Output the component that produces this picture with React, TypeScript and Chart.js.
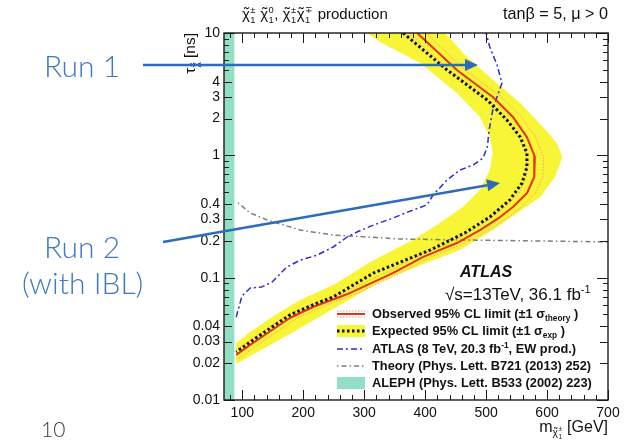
import React, { useEffect, useRef } from 'react';
import { Chart, registerables } from 'chart.js';

Chart.register(...registerables);

// ---------- data (m in GeV, tau in ns) ----------
const observedMass = [387, 452, 511, 544, 567, 580, 579, 567, 544, 523, 490, 452, 397, 347, 277, 216, 178, 137, 113, 90];
const observedTau = [10, 4.98, 3.0, 2.06, 1.41, 0.97, 0.665, 0.49, 0.378, 0.313, 0.245, 0.192, 0.148, 0.109, 0.075, 0.0576, 0.0468, 0.034, 0.0282, 0.0233];

const theoryUpMass = [401, 466, 525, 558, 581, 594, 593, 581, 558, 537, 504, 466, 410, 360, 290, 229, 190, 150, 125, 92];
const theoryUpTau = [10, 4.98, 3.0, 2.06, 1.41, 0.97, 0.665, 0.49, 0.378, 0.313, 0.245, 0.192, 0.148, 0.109, 0.075, 0.0576, 0.0468, 0.034, 0.0282, 0.0215];
const theoryDownMass = [374, 439, 498, 531, 554, 567, 566, 554, 531, 510, 477, 439, 384, 334, 264, 203, 166, 125, 102, 90];
const theoryDownTau = [10, 4.98, 3.0, 2.06, 1.41, 0.97, 0.665, 0.49, 0.378, 0.313, 0.245, 0.192, 0.148, 0.109, 0.075, 0.0576, 0.0468, 0.034, 0.0282, 0.025];

const expectedMass = [364, 436, 502, 534, 556, 567, 567, 559, 539, 506, 465, 408, 315, 249, 223, 178, 137, 113, 90];
const expectedTau = [10, 4.98, 2.83, 1.95, 1.41, 1.045, 0.8, 0.594, 0.432, 0.313, 0.232, 0.168, 0.109, 0.0695, 0.062, 0.0495, 0.036, 0.0298, 0.0247];

// +-1 sigma expected band, closed contour (inner edge then outer edge)
const bandMass = [305, 326, 392, 452, 490, 506, 511, 506, 490, 462, 424, 380, 315, 249, 195, 154, 113, 90,
  90, 113, 146, 195, 260, 326, 364, 457, 511, 551, 589, 613, 625, 616, 593, 556, 506, 465, 433];
const bandTau = [10, 8.44, 5.69, 3.23, 2.06, 1.41, 1.045, 0.758, 0.521, 0.378, 0.28, 0.203, 0.139, 0.0871, 0.0656, 0.0495, 0.036, 0.0292,
  0.0197, 0.0229, 0.0282, 0.0388, 0.0598, 0.0922, 0.111, 0.168, 0.245, 0.338, 0.456, 0.665, 0.969, 1.26, 1.71, 2.68, 4.37, 6.61, 10];

const atlas8Mass = [90, 99.5, 113, 132, 149, 173, 195, 223, 249, 272, 288, 315, 347, 380, 403, 413, 436, 457, 479, 495, 502, 505, 511, 518, 526, 518, 506, 500];
const atlas8Tau = [0.0476, 0.0708, 0.0822, 0.084, 0.0922, 0.122, 0.139, 0.153, 0.178, 0.215, 0.236, 0.269, 0.307, 0.357, 0.393, 0.474, 0.629, 0.758, 0.834, 0.951, 1.17, 1.61, 2.35, 3.0, 3.9, 5.47, 7.69, 10];

const theoryMass = [93, 113, 141, 195, 249, 305, 359, 469, 700];
const theoryTau = [0.41, 0.338, 0.296, 0.245, 0.223, 0.215, 0.207, 0.203, 0.196];

const alephLimit = 87;

const xMin = 70, xMax = 700;
const yMin = 0.01, yMax = 10;
const xTickLabels = [100, 200, 300, 400, 500, 600, 700];
const yTickLabels = [0.01, 0.02, 0.03, 0.04, 0.1, 0.2, 0.3, 0.4, 1, 2, 3, 4, 10];
const yDecades = [0.01, 0.1, 1, 10];
const yMinorTicks = [0.01, 0.02, 0.03, 0.04, 0.05, 0.06, 0.07, 0.08, 0.09, 0.1, 0.2, 0.3, 0.4, 0.5, 0.6, 0.7, 0.8, 0.9, 1, 2, 3, 4, 5, 6, 7, 8, 9, 10];

// ---------- colours ----------
const YELLOW = '#f8f436';
const GREEN = '#92e0c4';
const RED = '#e8321e';
const BLUE = '#2b2bd6';
const GREY = '#7c7c7c';
const SLIDE_BLUE = '#3f79c1';
const ARROW_BLUE = '#2d6bbc';

const FAM = '"Liberation Sans", Arial, Helvetica, sans-serif';

type Seg = { t: string; k?: 'sup' | 'sub'; tilde?: boolean; sup?: string; sub?: string };

function runSegs(ctx: CanvasRenderingContext2D, segs: Seg[], x: number, y: number, size: number, weight: string, draw: boolean) {
  const font = (fs: number) => `${weight} ${fs}px ${FAM}`;
  let cx = x;
  ctx.textAlign = 'left';
  ctx.textBaseline = 'alphabetic';
  for (const s of segs) {
    let fs = size, dy = 0;
    if (s.k === 'sup') { fs = size * 0.65; dy = -size * 0.42; }
    else if (s.k === 'sub') { fs = size * 0.65; dy = size * 0.24; }
    ctx.font = font(fs);
    const w = ctx.measureText(s.t).width;
    if (draw) ctx.fillText(s.t, cx, y + dy);
    if (s.tilde && draw) {
      ctx.textAlign = 'center';
      ctx.fillText('\u02DC', cx + w / 2 + fs * 0.04, y + dy - fs * 0.1);
      ctx.textAlign = 'left';
    }
    cx += w;
    if (s.sup || s.sub) {
      const ss = fs * 0.62;
      ctx.font = font(ss);
      let ww = 0;
      if (s.sup) { if (draw) ctx.fillText(s.sup, cx + 0.5, y + dy - fs * 0.42); ww = Math.max(ww, ctx.measureText(s.sup).width); }
      if (s.sub) { if (draw) ctx.fillText(s.sub, cx + 0.5, y + dy + fs * 0.26); ww = Math.max(ww, ctx.measureText(s.sub).width); }
      cx += ww + 1;
    }
  }
  return cx - x;
}

const legendRows: Seg[][] = [
  [{ t: 'Observed 95% CL limit (\u00b11 \u03c3' }, { t: 'theory', k: 'sub' }, { t: ' )' }],
  [{ t: 'Expected 95% CL limit (\u00b11 \u03c3' }, { t: 'exp', k: 'sub' }, { t: ' )' }],
  [{ t: 'ATLAS (8 TeV, 20.3 fb' }, { t: '-1', k: 'sup' }, { t: ', EW prod.)' }],
  [{ t: 'Theory (Phys. Lett. B721 (2013) 252)' }],
  [{ t: 'ALEPH (Phys. Lett. B533 (2002) 223)' }],
];

const topLeftText: Seg[] = [
  { t: '\u03c7', tilde: true, sup: '\u00b1', sub: '1' }, { t: ' ' },
  { t: '\u03c7', tilde: true, sup: '0', sub: '1' }, { t: ', ' },
  { t: '\u03c7', tilde: true, sup: '\u00b1', sub: '1' },
  { t: '\u03c7', tilde: true, sup: '\u2213', sub: '1' }, { t: ' production' },
];
const topRightText: Seg[] = [{ t: 'tan\u03b2 = 5, \u03bc > 0' }];
const xTitle: Seg[] = [{ t: 'm' }, { t: '\u03c7', k: 'sub', tilde: true, sup: '\u00b1', sub: '1' }, { t: ' [GeV]' }];
const yTitle: Seg[] = [{ t: '\u03c4' }, { t: '\u03c7', k: 'sub', tilde: true }, { t: ' [ns]' }];

function drawArrow(ctx: CanvasRenderingContext2D, x1: number, y1: number, x2: number, y2: number) {
  const ang = Math.atan2(y2 - y1, x2 - x1);
  const hl = 13, hw = 6;
  const bx = x2 - hl * Math.cos(ang), by = y2 - hl * Math.sin(ang);
  ctx.strokeStyle = ARROW_BLUE;
  ctx.fillStyle = ARROW_BLUE;
  ctx.lineWidth = 2.5;
  ctx.setLineDash([]);
  ctx.beginPath();
  ctx.moveTo(x1, y1);
  ctx.lineTo(bx, by);
  ctx.stroke();
  ctx.beginPath();
  ctx.moveTo(x2, y2);
  ctx.lineTo(bx - hw * Math.sin(ang), by + hw * Math.cos(ang));
  ctx.lineTo(bx + hw * Math.sin(ang), by - hw * Math.cos(ang));
  ctx.closePath();
  ctx.fill();
}

function drawFrame(chart: any) {
  const { ctx, chartArea: a, scales } = chart;
  const xs = scales.x, ys = scales.y;
  ctx.save();
  ctx.setLineDash([]);
  ctx.strokeStyle = '#1a1a1a';
  ctx.lineWidth = 1;
  ctx.beginPath();
  for (const v of yMinorTicks) {
    const py = Math.round(ys.getPixelForValue(v)) + 0.5;
    const len = yDecades.includes(v) ? 11 : yTickLabels.includes(v) ? 8 : 5;
    ctx.moveTo(a.left, py); ctx.lineTo(a.left + len, py);
    ctx.moveTo(a.right, py); ctx.lineTo(a.right - len, py);
  }
  for (let v = 80; v <= xMax; v += 20) {
    const px = Math.round(xs.getPixelForValue(v)) + 0.5;
    const len = v % 100 === 0 ? 10 : 5;
    ctx.moveTo(px, a.bottom); ctx.lineTo(px, a.bottom - len);
    ctx.moveTo(px, a.top); ctx.lineTo(px, a.top + len);
  }
  ctx.stroke();
  ctx.lineWidth = 1.4;
  ctx.strokeRect(a.left, a.top, a.right - a.left, a.bottom - a.top);
  ctx.restore();
}

const overlayPlugin = {
  id: 'rootOverlay',
  afterDraw(chart: any) {
    drawFrame(chart);
    const { ctx, chartArea: a } = chart;
    ctx.save();
    ctx.setLineDash([]);
    ctx.fillStyle = '#111';
    // top labels
    runSegs(ctx, topLeftText, 242, 19, 15, 'normal', true);
    const wr = runSegs(ctx, topRightText, 0, 0, 16.2, 'normal', false);
    runSegs(ctx, topRightText, a.right - wr, 19, 16.2, 'normal', true);
    // x title
    const wx = runSegs(ctx, xTitle, 0, 0, 16, 'normal', false);
    runSegs(ctx, xTitle, a.right - wx, 432, 16, 'normal', true);
    // y title (rotated)
    const wy = runSegs(ctx, yTitle, 0, 0, 15.5, 'normal', false);
    ctx.save();
    ctx.translate(195, a.top + wy);
    ctx.rotate(-Math.PI / 2);
    runSegs(ctx, yTitle, 0, 0, 15.5, 'normal', true);
    ctx.restore();

    // ATLAS label
    ctx.fillStyle = '#111';
    ctx.font = `italic bold 16px ${FAM}`;
    ctx.textAlign = 'left';
    ctx.fillText('ATLAS', 460, 277);
    runSegs(ctx, [{ t: '\u221As=13TeV, 36.1 fb' }, { t: '-1', k: 'sup' }], 445, 300, 17, 'normal', true);

    // legend
    const base = [318, 335, 353, 370, 387];
    const sx0 = 337, sx1 = 365;
    legendRows.forEach((row, i) => {
      ctx.fillStyle = '#111';
      runSegs(ctx, row, 372, base[i], 12.8, 'bold', true);
    });
    const cy = base.map((b) => b - 4);
    // observed symbol
    ctx.lineWidth = 1;
    ctx.strokeStyle = '#f39a78';
    ctx.setLineDash([1.5, 1.5]);
    ctx.beginPath();
    ctx.moveTo(sx0, cy[0] - 3); ctx.lineTo(sx1, cy[0] - 3);
    ctx.moveTo(sx0, cy[0] + 3); ctx.lineTo(sx1, cy[0] + 3);
    ctx.stroke();
    ctx.setLineDash([]);
    ctx.strokeStyle = RED; ctx.lineWidth = 2;
    ctx.beginPath(); ctx.moveTo(sx0, cy[0]); ctx.lineTo(sx1, cy[0]); ctx.stroke();
    // expected symbol
    ctx.fillStyle = YELLOW;
    ctx.fillRect(sx0, cy[1] - 6, sx1 - sx0, 12);
    ctx.strokeStyle = '#111'; ctx.lineWidth = 3; ctx.setLineDash([2.5, 2.5]);
    ctx.beginPath(); ctx.moveTo(sx0, cy[1]); ctx.lineTo(sx1, cy[1]); ctx.stroke();
    // atlas 8 tev
    ctx.strokeStyle = BLUE; ctx.lineWidth = 1.5; ctx.setLineDash([6, 3, 2, 3]);
    ctx.beginPath(); ctx.moveTo(sx0, cy[2]); ctx.lineTo(sx1, cy[2]); ctx.stroke();
    // theory
    ctx.strokeStyle = GREY; ctx.lineWidth = 1.5; ctx.setLineDash([1.5, 3, 5, 3]);
    ctx.beginPath(); ctx.moveTo(sx0, cy[3]); ctx.lineTo(sx1, cy[3]); ctx.stroke();
    ctx.setLineDash([]);
    // aleph
    ctx.fillStyle = GREEN;
    ctx.fillRect(sx0, cy[4] - 6, sx1 - sx0, 12);

    // slide annotations
    ctx.fillStyle = SLIDE_BLUE;
    ctx.textAlign = 'left';
    ctx.font = `300 30px Lato, "Open Sans", sans-serif`;
    ctx.fillText('Run 1', 44, 77);
    ctx.fillText('Run 2', 44, 258);
    ctx.fillText('(with IBL)', 22, 294);
    ctx.fillStyle = '#3a3a3a';
    ctx.font = `300 21px Lato, "Open Sans", sans-serif`;
    ctx.fillText('10', 41, 437);
    drawArrow(ctx, 143, 65, 478, 65);
    drawArrow(ctx, 163, 242, 500, 183);
    ctx.restore();
  },
};

const pts = (xs: number[], ys: number[]) => xs.map((x, i) => ({ x, y: ys[i] }));

export default function App() {
  const ref = useRef<HTMLCanvasElement>(null);
  useEffect(() => {
    const canvas = ref.current!;
    const chart = new Chart(canvas, {
      type: 'scatter',
      data: {
        datasets: [
          {
            label: 'Expected', data: pts(expectedMass, expectedTau), showLine: true, order: 1,
            borderColor: '#111', borderWidth: 3, borderDash: [2.5, 2.5], pointRadius: 0, fill: false,
          },
          {
            label: 'Observed', data: pts(observedMass, observedTau), showLine: true, order: 2,
            borderColor: RED, borderWidth: 2, pointRadius: 0, fill: false,
          },
          {
            label: 'Theory +1s', data: pts(theoryUpMass, theoryUpTau), showLine: true, order: 3,
            borderColor: '#f3a07e', borderWidth: 1, borderDash: [1.5, 1.5], pointRadius: 0, fill: false,
          },
          {
            label: 'Theory -1s', data: pts(theoryDownMass, theoryDownTau), showLine: true, order: 3,
            borderColor: '#f3a07e', borderWidth: 1, borderDash: [1.5, 1.5], pointRadius: 0, fill: false,
          },
          {
            label: 'ATLAS 8 TeV', data: pts(atlas8Mass, atlas8Tau), showLine: true, order: 4,
            borderColor: BLUE, borderWidth: 1.5, borderDash: [6, 3, 2, 3], pointRadius: 0, fill: false,
          },
          {
            label: 'Theory', data: pts(theoryMass, theoryTau), showLine: true, order: 5,
            borderColor: GREY, borderWidth: 1.5, borderDash: [1.5, 3, 5, 3], pointRadius: 0, fill: false,
          },
          {
            label: 'ALEPH', data: pts([xMin, alephLimit, alephLimit, xMin], [yMin, yMin, yMax, yMax]), showLine: true, order: 9,
            borderWidth: 0, borderColor: 'rgba(0,0,0,0)', backgroundColor: GREEN, pointRadius: 0, fill: 'shape',
          },
          {
            label: 'Expected band', data: pts(bandMass, bandTau), showLine: true, order: 10,
            borderWidth: 0, borderColor: 'rgba(0,0,0,0)', backgroundColor: YELLOW, pointRadius: 0, fill: 'shape',
          },
        ] as any,
      },
      options: {
        responsive: false,
        animation: false,
        events: [],
        layout: { padding: { left: 0, right: 18, top: 33, bottom: 0 } },
        plugins: { legend: { display: false }, tooltip: { enabled: false } },
        elements: { line: { tension: 0, borderJoinStyle: 'round' } },
        scales: {
          x: {
            type: 'linear', min: xMin, max: xMax,
            grid: { display: false, drawTicks: false }, border: { display: false },
            afterFit: (s: any) => { s.height = 42; },
            afterBuildTicks: (s: any) => { s.ticks = xTickLabels.map((v) => ({ value: v })); },
            ticks: {
              autoSkip: false, maxRotation: 0, padding: 5, color: '#111',
              font: { family: FAM, size: 14 },
              callback: (v: any) => String(v),
            },
          },
          y: {
            type: 'logarithmic', min: yMin, max: yMax,
            grid: { display: false, drawTicks: false }, border: { display: false },
            afterFit: (s: any) => { s.width = 224; },
            afterBuildTicks: (s: any) => { s.ticks = yTickLabels.map((v) => ({ value: v })); },
            ticks: {
              autoSkip: false, padding: 4, color: '#111',
              font: { family: FAM, size: 14 },
              callback: (v: any) => String(v),
            },
          },
        },
      } as any,
      plugins: [overlayPlugin],
    });
    return () => chart.destroy();
  }, []);
  return (
    <div style={{ position: 'fixed', left: 0, top: 0, width: 626, height: 442, background: '#fff' }}>
      <canvas ref={ref} width={626} height={442} style={{ display: 'block', width: 626, height: 442 }} />
    </div>
  );
}
